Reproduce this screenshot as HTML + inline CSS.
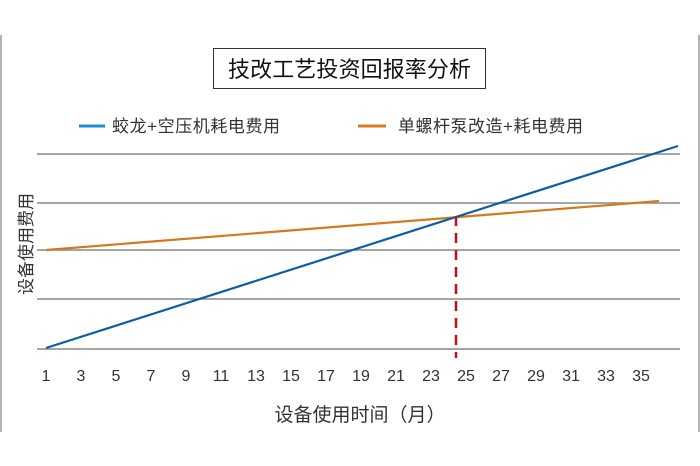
<!DOCTYPE html>
<html><head><meta charset="utf-8"><style>
body{margin:0;background:#fff}
svg{display:block;font-family:"Liberation Sans","Noto Sans CJK SC",sans-serif}
</style></head><body>
<svg width="700" height="466" viewBox="0 0 700 466" xmlns="http://www.w3.org/2000/svg">
<rect width="700" height="466" fill="#fff"/>
<line x1="1" y1="35" x2="1" y2="432" stroke="#999" stroke-width="1.5"/>
<line x1="699" y1="35" x2="699" y2="432" stroke="#999" stroke-width="1.5"/>
<rect x="213.5" y="48.5" width="272" height="40" fill="#fff" stroke="#333" stroke-width="1"/>
<text x="228" y="77" font-size="22" textLength="243" fill="#111">技改工艺投资回报率分析</text>
<line x1="79" y1="126" x2="105" y2="126" stroke="#1a8fd6" stroke-width="3"/>
<text x="112" y="132" font-size="17" textLength="168" fill="#333">蛟龙+空压机耗电费用</text>
<line x1="358" y1="126" x2="386" y2="126" stroke="#d97b1e" stroke-width="3"/>
<text x="398" y="132" font-size="17" textLength="185" fill="#333">单螺杆泵改造+耗电费用</text>
<g stroke="#888" stroke-width="1.5">
<line x1="37" y1="154" x2="680" y2="154"/>
<line x1="37" y1="203" x2="680" y2="203"/>
<line x1="37" y1="250" x2="680" y2="250"/>
<line x1="37" y1="299" x2="680" y2="299"/>
<line x1="37" y1="349" x2="680" y2="349"/>
</g>
<line x1="46" y1="250" x2="659" y2="201" stroke="#d37a1c" stroke-width="2.2"/>
<line x1="46" y1="348" x2="678" y2="146" stroke="#0e5fa0" stroke-width="2.2"/>
<line x1="456" y1="216" x2="456" y2="358" stroke="#c0101c" stroke-width="2.5" stroke-dasharray="10,7"/>
<g font-size="16" fill="#333" text-anchor="middle">
<text x="46" y="381">1</text><text x="81" y="381">3</text><text x="116" y="381">5</text><text x="151" y="381">7</text><text x="186" y="381">9</text><text x="221" y="381">11</text><text x="256" y="381">13</text><text x="291" y="381">15</text><text x="326" y="381">17</text><text x="361" y="381">19</text><text x="396" y="381">21</text><text x="431" y="381">23</text><text x="466" y="381">25</text><text x="501" y="381">27</text><text x="536" y="381">29</text><text x="571" y="381">31</text><text x="606" y="381">33</text><text x="641" y="381">35</text>
</g>
<text x="360" y="421" font-size="19" fill="#333" text-anchor="middle">设备使用时间（月）</text>
<text transform="translate(32,244) rotate(-90)" font-size="17" fill="#333" text-anchor="middle">设备使用费用</text>
</svg>
</body></html>
